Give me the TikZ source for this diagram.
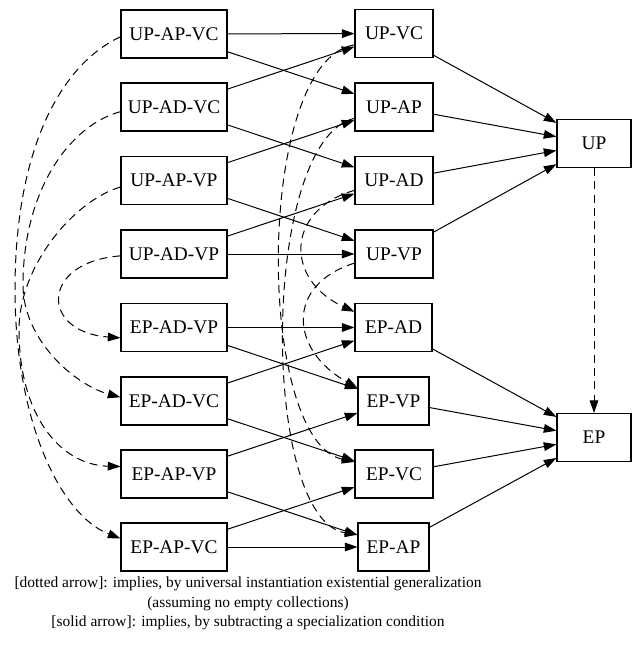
\documentclass[tikz,border=0pt]{standalone}
\usepackage{fontspec}
\setmainfont{Liberation Serif}
\usetikzlibrary{arrows.meta}
\begin{document}
\begin{tikzpicture}[x=0.75pt,y=-0.75pt,
  box/.style={draw, line width=0.8pt, minimum height=36pt, inner sep=0pt, font=\fontsize{14.5}{17}\selectfont},
  wA/.style={box, minimum width=79.5pt},
  wB/.style={box, minimum width=58.5pt},
  wC/.style={box, minimum width=53.25pt},
  wD/.style={box, minimum width=55.5pt},
  tip/.style={-{Triangle[length=9.5pt,width=6.5pt]}},
  sarrow/.style={line width=0.75pt, tip},
  darrow/.style={line width=0.75pt, dash pattern=on 6pt off 4pt, tip}]
\fill[white] (0,0) rectangle (635,648);
\useasboundingbox (0,0) rectangle (635,648);
% column 1
\node[wA] (UPAPVC) at (174,34) {UP-AP-VC};
\node[wA] (UPADVC) at (174,107) {UP-AD-VC};
\node[wA] (UPAPVP) at (174,180.5) {UP-AP-VP};
\node[wA] (UPADVP) at (174,254) {UP-AD-VP};
\node[wA] (EPADVP) at (174,327.5) {EP-AD-VP};
\node[wA] (EPADVC) at (174,401) {EP-AD-VC};
\node[wA] (EPAPVP) at (174,474) {EP-AP-VP};
\node[wA] (EPAPVC) at (174,547) {EP-AP-VC};
% column 2
\node[wB] (UPVC) at (394,33.5) {UP-VC};
\node[wB] (UPAP) at (394,107) {UP-AP};
\node[wB] (UPAD) at (394,180.5) {UP-AD};
\node[wB] (UPVP) at (394,254) {UP-VP};
\node[wB, minimum width=57.75pt] (EPAD) at (393.5,327.5) {EP-AD};
\node[wC] (EPVP) at (393.5,401) {EP-VP};
\node[wB] (EPVC) at (394,474) {EP-VC};
\node[wC] (EPAP) at (393.5,547) {EP-AP};
% column 3
\node[wD] (UP) at (594,143.5) {UP};
\node[wD] (EP) at (594,437.5) {EP};
% solid arrows, column 1 -> column 2
\draw[sarrow] (UPAPVC) -- (UPVC);
\draw[sarrow] (UPAPVC) -- (UPAP);
\draw[sarrow] (UPADVC) -- (UPVC);
\draw[sarrow] (UPADVC) -- (UPAD);
\draw[sarrow] (UPAPVP) -- (UPAP);
\draw[sarrow] (UPAPVP) -- (UPVP);
\draw[sarrow] (UPADVP) -- (UPAD);
\draw[sarrow] (UPADVP) -- (UPVP);
\draw[sarrow] (EPADVP) -- (EPAD);
\draw[sarrow] (EPADVP) -- (EPVP);
\draw[sarrow] (EPADVC) -- (EPAD);
\draw[sarrow] (EPADVC) -- (EPVC);
\draw[sarrow] (EPAPVP) -- (EPVP);
\draw[sarrow] (EPAPVP) -- (EPAP);
\draw[sarrow] (EPAPVC) -- (EPVC);
\draw[sarrow] (EPAPVC) -- (EPAP);
% solid arrows, column 2 -> column 3
\draw[sarrow] (UPVC) -- (UP);
\draw[sarrow] (UPAP) -- (UP);
\draw[sarrow] (UPAD) -- (UP);
\draw[sarrow] (UPVP) -- (UP);
\draw[sarrow] (EPAD) -- (EP);
\draw[sarrow] (EPVP) -- (EP);
\draw[sarrow] (EPVC) -- (EP);
\draw[sarrow] (EPAP) -- (EP);
% dashed arrows
\draw[darrow] (UP) -- (EP);
\draw[darrow] (UPAPVC.183) .. controls (60,65) and (15,150) .. (15,290) .. controls (15,420) and (60,515) .. (EPAPVC.171);
\draw[darrow] (UPADVC.185) .. controls (70,125) and (23,190) .. (23,285) .. controls (23,340) and (75,385) .. (EPADVC.176);
\draw[darrow] (UPAPVP.187) .. controls (75,200) and (19,265) .. (19,330) .. controls (19,415) and (60,465) .. (EPAPVP.172);
\draw[darrow] (UPADVP.182) .. controls (40,262) and (40,332) .. (EPADVP.191);
\draw[darrow] (UPVC.196) .. controls (255,60) and (255,440) .. (EPVC.163);
\draw[darrow] (UPAP.196) .. controls (260,140) and (260,520) .. (EPAP.161);
\draw[darrow] (UPAD.194) .. controls (285,210) and (285,280) .. (EPAD.158);
\draw[darrow] (UPVP.193) .. controls (285,285) and (290,350) .. (EPVP.160);
% caption
\node[align=center, inner sep=0pt, font=\fontsize{11.6}{14.6}\selectfont] (cap) at (248,603.5)
  {{[dotted arrow]}: implies, by universal instantiation existential generalization\\
   (assuming no empty collections)\\
   {[solid arrow]}: implies, by subtracting a specialization condition};
\end{tikzpicture}
\end{document}
